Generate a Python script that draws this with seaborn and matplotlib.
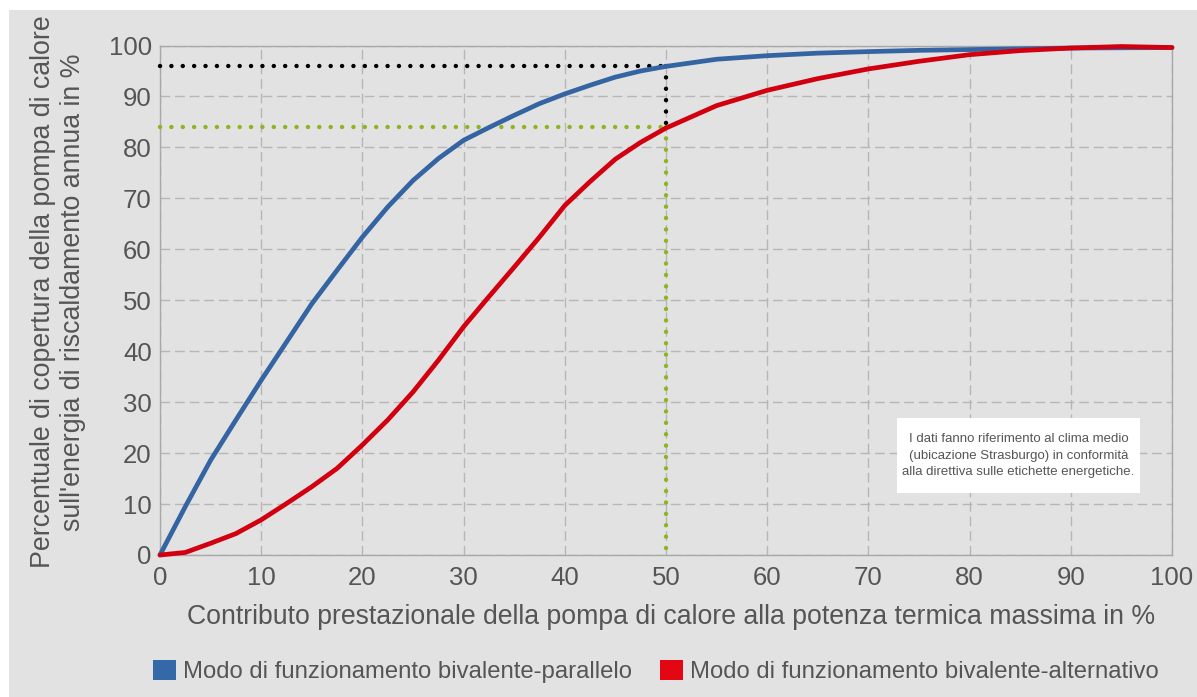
#Import libraries
import numpy as np
import pandas as pd
import matplotlib.pyplot as plt
import seaborn as sns
from matplotlib.patches import Patch, Rectangle

#Data
x_vals = [0, 2.5, 5, 7.5, 10, 12.5, 15, 17.5, 20, 22.5, 25, 27.5, 30, 32.5, 35, 37.5, 40,
          42.5, 45, 47.5, 50, 55, 60, 65, 70, 75, 80, 85, 90, 95, 100]
parallelo = [0, 9.5, 18.6, 26.5, 34.3, 41.8, 49.3, 55.9, 62.4, 68.3, 73.5, 77.8, 81.4, 83.9, 86.3, 88.6, 90.5,
             92.2, 93.8, 95, 95.9, 97.3, 98, 98.5, 98.8, 99.05, 99.2, 99.35, 99.5, 99.55, 99.6]
alternativo = [0, 0.5, 2.3, 4.2, 6.9, 10.1, 13.4, 17, 21.6, 26.5, 32, 38.2, 44.8, 50.7, 56.5, 62.4, 68.6,
               73.3, 77.7, 81, 83.8, 88.2, 91.2, 93.5, 95.4, 96.9, 98.2, 99, 99.5, 99.8, 99.6]
series_names = ['Modo di funzionamento bivalente-parallelo', 'Modo di funzionamento bivalente-alternativo']
ref_x = 50
ref_parallelo = 96
ref_alternativo = 84
note = ("I dati fanno riferimento al clima medio\n"
        "(ubicazione Strasburgo) in conformità\n"
        "alla direttiva sulle etichette energetiche.")

df = pd.DataFrame({'x': x_vals * 2,
                   'y': parallelo + alternativo,
                   'serie': [series_names[0]] * len(x_vals) + [series_names[1]] * len(x_vals)})

bg = '#e2e2e2'
txt = '#555555'
blue = '#3464a2'
red = '#d2000f'
green = '#8db51e'

sns.set_style('whitegrid')
plt.rcParams['font.family'] = ['Liberation Sans', 'DejaVu Sans']

fig = plt.figure(figsize=(11.97, 6.97), dpi=100)
fig.patch.set_facecolor('white')
fig.patches.append(Rectangle((9 / 1197, 0), 1, 1 - 10 / 697, transform=fig.transFigure,
                             facecolor=bg, edgecolor='none', zorder=-10))
ax = fig.add_axes([160 / 1197, 1 - 555 / 697, 1012 / 1197, 509.5 / 697])
ax.set_facecolor(bg)

#Reference dotted lines
dots = dict(linewidth=3.2, linestyle=(0, (0.01, 2.55)), dash_capstyle='round', clip_on=False, zorder=3)
ax.plot([0, ref_x], [ref_parallelo, ref_parallelo], color='black', **dots)
ax.plot([ref_x, ref_x], [ref_parallelo, ref_alternativo], color='black', **dots)
ax.plot([0, ref_x], [ref_alternativo, ref_alternativo], color=green, **dots)
ax.plot([ref_x, ref_x], [ref_alternativo, 0], color=green, **dots)

#Curves
sns.lineplot(data=df, x='x', y='y', hue='serie', palette=[blue, red], linewidth=3.4,
             legend=False, ax=ax, clip_on=False, zorder=4)

ax.set_xlim(0, 100)
ax.set_ylim(0, 100)
ax.set_xticks(range(0, 101, 10))
ax.set_yticks(range(0, 101, 10))
ax.grid(True, color='#b6b6b6', linestyle=(0, (7, 3.5)), linewidth=1)
for s in ax.spines.values():
    s.set_visible(True)
    s.set_color('#a8a8a8')
    s.set_linewidth(1)
ax.tick_params(length=0, labelsize=18.5, labelcolor=txt)
ax.tick_params(axis='x', pad=8)
ax.tick_params(axis='y', pad=6)

ax.set_xlabel('Contributo prestazionale della pompa di calore alla potenza termica massima in %',
              fontsize=19.2, color=txt)
ax.xaxis.set_label_coords(0.5054, -0.096)
ax.set_ylabel("Percentuale di copertura della pompa di calore\nsull'energia di riscaldamento annua in %",
              fontsize=19.3, color=txt, linespacing=1.2)
ax.yaxis.set_label_coords(-0.0731, 0.516)

#Note box
box_l, box_b = (897 - 160) / 1012, (555 - 493) / 509.5
box_w, box_h = 243 / 1012, 75 / 509.5
ax.add_patch(Rectangle((box_l, box_b), box_w, box_h, transform=ax.transAxes,
                       facecolor='white', edgecolor='none', zorder=5))
ax.text(box_l + box_w / 2, box_b + box_h / 2, note, transform=ax.transAxes, ha='center', va='center',
        fontsize=9.5, color=txt, linespacing=1.45, zorder=6)

#Legend
handles = [Patch(facecolor='#3568a8', edgecolor='none'), Patch(facecolor='#e30613', edgecolor='none')]
fig.legend(handles, series_names, loc='center', bbox_to_anchor=(656 / 1197, 1 - 671.5 / 697), ncol=2,
           frameon=False, fontsize=17.2, labelcolor=txt, handlelength=0.96, handleheight=0.96,
           handletextpad=0.3, columnspacing=1.17, borderpad=0)

fig.savefig('out.png', dpi=100, facecolor=fig.get_facecolor())
